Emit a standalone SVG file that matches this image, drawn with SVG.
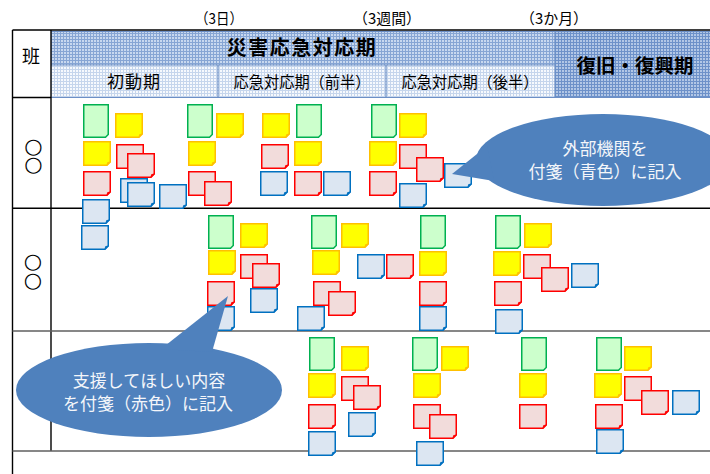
<svg xmlns="http://www.w3.org/2000/svg" xmlns:xlink="http://www.w3.org/1999/xlink" width="710" height="474" viewBox="0 0 710 474">
<style>
text{font-family:"Noto Sans CJK JP","Noto Sans",sans-serif;fill:#000}
.hb{font-weight:bold}
.cw{fill:#f4f6fa}
.ci{font-family:"DejaVu Sans",sans-serif}
.ln{fill:none;stroke:#000;stroke-width:1.4}
.lg{fill:none;stroke:#606060;stroke-width:1.6}
.hl{fill:none;stroke:#6c8fc6;stroke-width:1.2}
.co{fill:#4f81bd}
</style>
<defs>
<pattern id="p1" width="3" height="3" patternUnits="userSpaceOnUse"><rect width="3" height="3" fill="#c8d8ef"/><path d="M0 0.5H3M0.5 0V3" stroke="#86a5d4" stroke-width="1"/></pattern>
<pattern id="p2" width="3" height="3" patternUnits="userSpaceOnUse"><rect width="3" height="3" fill="#f6f9fd"/><path d="M0 0.5H3M0.5 0V3" stroke="#c5d5ec" stroke-width="1"/></pattern>
<pattern id="p3" width="3" height="3" patternUnits="userSpaceOnUse"><rect width="3" height="3" fill="#b2c7e6"/><path d="M0 0.5H3M0.5 0V3" stroke="#6d91c9" stroke-width="1"/></pattern>
<symbol id="g" overflow="visible"><path d="M0.75 0.75H25.25V30.5L22.5 33.25H0.75Z" fill="#ccffcc" stroke="#00b050" stroke-width="1.5"/></symbol>
<symbol id="y" overflow="visible"><path d="M0.75 0.75H27.25V21L24 24.25H0.75Z" fill="#ffff00" stroke="#ffc000" stroke-width="1.5"/><path d="M27.25 21L24 24.25L24.6 21.6Z" fill="#ffc000" stroke="#ffc000" stroke-width="1"/></symbol>
<symbol id="r" overflow="visible"><path d="M0.75 0.75H27.25V21L24 24.25H0.75Z" fill="#f2dcdb" stroke="#ff0000" stroke-width="1.5"/><path d="M27.25 21L24 24.25L24.6 21.6Z" fill="#ff0000" stroke="#ff0000" stroke-width="1"/></symbol>
<symbol id="b" overflow="visible"><path d="M0.75 0.75H27.25V21L24 24.25H0.75Z" fill="#dce6f2" stroke="#0070c0" stroke-width="1.5"/><path d="M27.25 21L24 24.25L24.6 21.6Z" fill="#0070c0" stroke="#0070c0" stroke-width="1"/></symbol>
</defs>

<!-- period marks -->
<g id="marks">
<text x="219" y="24" font-size="15" text-anchor="middle" textLength="48" lengthAdjust="spacingAndGlyphs">（3日）</text>
<text x="387" y="24" font-size="15" text-anchor="middle" textLength="68" lengthAdjust="spacingAndGlyphs">（3週間）</text>
<text x="554" y="24" font-size="15" text-anchor="middle" textLength="68" lengthAdjust="spacingAndGlyphs">（3か月）</text>
</g>

<!-- header -->
<g id="header">
<rect x="51" y="31" width="504" height="34" fill="url(#p1)"/>
<rect x="51" y="65" width="167" height="32" fill="url(#p2)"/>
<rect x="218" y="65" width="168" height="32" fill="url(#p2)"/>
<rect x="386" y="65" width="169" height="32" fill="url(#p2)"/>
<rect x="555" y="31" width="155" height="66" fill="url(#p3)"/>
<path class="hl" d="M51 65H555M218 65V97M386 65V97M555 31V97M51 97.5H710M51 31.5H710"/>
<text class="hb" x="302" y="55" font-size="20" text-anchor="middle" letter-spacing="1.5">災害応急対応期</text>
<text class="hb" x="635" y="73" font-size="19.5" text-anchor="middle">復旧・復興期</text>
<text x="134" y="88" font-size="17" text-anchor="middle" letter-spacing="1">初動期</text>
<text x="302" y="88" font-size="16" text-anchor="middle" textLength="137" lengthAdjust="spacingAndGlyphs">応急対応期（前半）</text>
<text x="470" y="88" font-size="16" text-anchor="middle" textLength="137" lengthAdjust="spacingAndGlyphs">応急対応期（後半）</text>
</g>

<!-- table lines -->
<g id="table">
<path class="ln" d="M12.5 30H710M12.5 30V474M51 30V451M12.5 97.5H51M12.5 208.3H710"/>
<path class="lg" d="M12.5 331H710M12.5 451H710"/>
<text x="31" y="63" font-size="18" text-anchor="middle">班</text>
<text class="ci" font-size="21" text-anchor="middle" dominant-baseline="central"><tspan x="33.5" y="145.5">○</tspan><tspan x="33.5" y="163.5">○</tspan></text>
<text class="ci" font-size="21" text-anchor="middle" dominant-baseline="central"><tspan x="33" y="260.5">○</tspan><tspan x="33" y="279.5">○</tspan></text>
</g>

<!-- row 1 notes -->
<g id="row1-a">
<use href="#g" x="83" y="104"/><use href="#y" x="115" y="113"/><use href="#y" x="83" y="141"/>
<use href="#r" x="116" y="144"/><use href="#r" x="127" y="153"/><use href="#r" x="83" y="171"/>
<use href="#b" x="120" y="178"/><use href="#b" x="127" y="182"/><use href="#b" x="159" y="184"/>
<use href="#b" x="82" y="199"/><use href="#b" x="81" y="225"/>
</g>
<g id="row1-b">
<use href="#g" x="187" y="104"/><use href="#y" x="216" y="113"/><use href="#y" x="188" y="141"/>
<use href="#r" x="188" y="171"/><use href="#r" x="204" y="181"/>
</g>
<g id="row1-c">
<use href="#y" x="262" y="113"/><use href="#g" x="296" y="104"/><use href="#r" x="261" y="144"/>
<use href="#y" x="294" y="141"/><use href="#b" x="260" y="171"/><use href="#r" x="294" y="171"/>
<use href="#b" x="323" y="171"/>
</g>
<g id="row1-d">
<use href="#g" x="371" y="104"/><use href="#y" x="399" y="113"/><use href="#y" x="369" y="141"/>
<use href="#r" x="399" y="144"/><use href="#r" x="416" y="157"/><use href="#b" x="444" y="163"/>
<use href="#r" x="369" y="171"/><use href="#b" x="399" y="183"/>
</g>

<!-- row 2 notes -->
<g id="row2-a">
<use href="#g" x="208" y="215"/><use href="#y" x="240" y="223"/><use href="#y" x="208" y="250"/>
<use href="#r" x="240" y="254"/><use href="#r" x="252" y="263"/><use href="#r" x="207" y="281"/>
<use href="#b" x="207" y="306"/><use href="#b" x="250" y="288"/>
</g>
<g id="row2-b">
<use href="#g" x="311" y="215"/><use href="#y" x="341" y="223"/><use href="#y" x="312" y="250"/>
<use href="#b" x="357" y="254"/><use href="#r" x="386" y="254"/><use href="#r" x="313" y="281"/>
<use href="#r" x="328" y="291"/><use href="#b" x="297" y="306"/>
</g>
<g id="row2-c">
<use href="#g" x="420" y="215"/><use href="#y" x="419" y="251"/><use href="#r" x="419" y="281"/>
<use href="#b" x="419" y="306"/>
</g>
<g id="row2-d">
<use href="#g" x="495" y="215"/><use href="#y" x="524" y="223"/><use href="#y" x="493" y="251"/>
<use href="#r" x="523" y="254"/><use href="#r" x="541" y="267"/><use href="#b" x="571" y="263"/>
<use href="#r" x="494" y="281"/><use href="#b" x="495" y="309"/>
</g>

<!-- row 3 notes -->
<g id="row3-a">
<use href="#g" x="309" y="337"/><use href="#y" x="341" y="346"/><use href="#y" x="308" y="373"/>
<use href="#r" x="341" y="376"/><use href="#r" x="353" y="385"/><use href="#r" x="308" y="404"/>
<use href="#b" x="348" y="412"/><use href="#b" x="308" y="431"/>
</g>
<g id="row3-b">
<use href="#g" x="412" y="337"/><use href="#y" x="441" y="346"/><use href="#y" x="413" y="373"/>
<use href="#r" x="413" y="404"/><use href="#r" x="429" y="414"/><use href="#b" x="416" y="441"/>
</g>
<g id="row3-c">
<use href="#g" x="521" y="337"/><use href="#y" x="519" y="373"/><use href="#r" x="519" y="404"/>
</g>
<g id="row3-d">
<use href="#g" x="596" y="337"/><use href="#y" x="624" y="346"/><use href="#y" x="594" y="373"/>
<use href="#r" x="624" y="376"/><use href="#r" x="641" y="390"/><use href="#b" x="672" y="390"/>
<use href="#r" x="595" y="404"/><use href="#b" x="596" y="429"/>
</g>

<!-- callouts -->
<g id="callout-blue">
<ellipse class="co" cx="603" cy="160" rx="127" ry="46"/>
<polygon class="co" points="452,174 487,146 494,181"/>
<text class="cw" x="605" y="155" font-size="17" text-anchor="middle">外部機関を</text>
<text class="cw" x="605" y="178" font-size="17" text-anchor="middle">付箋（青色）に記入</text>
</g>
<g id="callout-red">
<ellipse class="co" cx="149" cy="390" rx="133" ry="47"/>
<polygon class="co" points="228,296 161,349 212,352"/>
<text class="cw" x="149" y="387" font-size="17" text-anchor="middle">支援してほしい内容</text>
<text class="cw" x="148" y="410" font-size="17" text-anchor="middle">を付箋（赤色）に記入</text>
</g>
</svg>
